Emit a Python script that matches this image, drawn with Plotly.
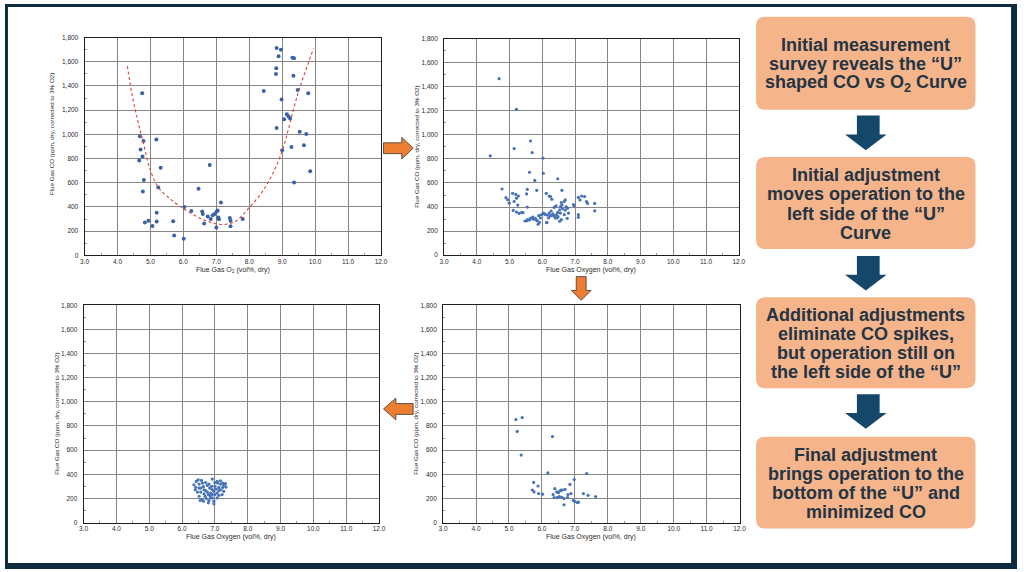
import plotly.graph_objects as go

W, H = 1024, 572

##### Data

# Initial survey (top left) - scattered "U"
survey_o2 = [4.75, 4.68, 4.79, 5.18, 4.70, 4.76, 4.66, 5.31, 6.80, 4.80, 4.77, 5.24, 6.46,
             7.14, 6.03, 6.24, 6.57, 6.59, 6.74, 6.89, 6.95, 7.01, 7.06, 7.04, 7.08, 6.83,
             6.63, 7.00, 7.41, 7.43, 7.43, 7.80, 5.19, 5.19, 4.83, 4.94, 5.06, 5.69, 5.72,
             6.01, 8.83, 8.96, 8.89, 9.31, 9.36, 8.82, 8.81, 9.34, 8.44, 9.47, 9.79, 8.98,
             9.14, 9.19, 9.06, 9.24, 8.83, 9.53, 9.73, 9.00, 9.28, 9.66, 9.85, 9.36]
survey_co = [1340, 984, 945, 957, 875, 818, 785, 725, 747, 624, 527, 562, 551,
             437, 399, 366, 363, 341, 322, 331, 341, 363, 314, 371, 298, 300,
             263, 230, 309, 287, 241, 301, 352, 279, 271, 287, 243, 282, 165,
             138, 1713, 1700, 1645, 1634, 1629, 1547, 1500, 1484, 1359, 1367, 1340, 1288,
             1166, 1147, 1125, 1131, 1052, 1022, 1003, 869, 896, 910, 695, 603]

# dashed trend curve on the survey chart
fit_o2 = [4.30, 4.43, 4.60, 4.78, 4.98, 5.24, 5.58, 5.98, 6.59, 7.18, 7.60, 7.98, 8.38,
          8.70, 9.00, 9.47, 9.95]
fit_co = [1565, 1345, 1130, 935, 717, 562, 471, 390, 297, 255, 285, 390, 520,
          670, 865, 1330, 1710]

# First adjustment (top middle)
adj1_o2 = [4.68, 5.21, 6.02, 5.64, 5.14, 5.69, 4.41, 5.61, 6.03, 5.77, 6.47, 4.77, 5.54,
           5.83, 6.60, 4.89, 4.94, 4.99, 5.09, 5.19, 5.14, 5.21, 5.27, 5.11, 5.21, 5.37,
           5.29, 5.52, 5.54, 5.47, 5.55, 5.64, 5.71, 5.79, 5.84, 5.91, 5.87, 5.89, 5.97,
           6.04, 6.09, 6.15, 6.21, 6.27, 6.32, 6.37, 6.43, 6.47, 6.53, 6.56, 6.58, 6.60,
           6.21, 6.29, 6.12, 6.70, 6.77, 6.80, 6.19, 6.14, 6.45, 6.58, 6.53, 6.95, 7.10,
           7.15, 7.20, 7.29, 7.35, 7.38, 7.60, 7.60, 7.10, 7.10, 6.62, 6.67, 6.70, 6.73,
           6.36, 6.42, 6.25, 6.13, 6.02, 5.94, 5.73, 5.83, 5.61, 5.69, 6.48, 6.40, 6.55,
           6.76, 6.35, 6.23, 5.25, 5.41, 5.53, 6.67, 6.97, 6.27]
adj1_co = [1467, 1212, 807, 949, 886, 853, 826, 689, 681, 621, 635, 550, 547,
           539, 539, 479, 460, 432, 514, 505, 446, 474, 492, 372, 358, 355,
           347, 509, 400, 284, 295, 306, 317, 306, 287, 273, 257, 328, 336,
           350, 339, 333, 350, 328, 344, 322, 336, 355, 377, 405, 438, 418,
           492, 465, 514, 459, 391, 350, 309, 271, 309, 295, 282, 421, 480,
           459, 492, 487, 446, 430, 430, 369, 337, 315, 386, 337, 375, 402,
           397, 410, 487, 271, 345, 309, 298, 290, 293, 309, 320, 309, 350,
           306, 328, 326, 416, 353, 287, 446, 410, 367]

# Additional adjustments (bottom middle)
adj2_o2 = [5.21, 5.40, 5.25, 5.37, 6.32, 6.18, 7.36, 6.98, 6.85, 5.75, 5.88, 5.71, 5.76,
           5.90, 6.02, 6.39, 6.34, 6.45, 6.55, 6.62, 6.60, 6.46, 6.37, 6.53, 6.67, 6.78,
           6.67, 6.79, 6.95, 7.00, 7.07, 7.11, 7.26, 7.40, 7.63, 6.50, 6.58, 6.70, 6.88]
adj2_co = [854, 870, 755, 559, 712, 412, 406, 357, 316, 333, 303, 270, 254,
           240, 235, 281, 232, 254, 262, 270, 210, 207, 207, 215, 199, 207,
           147, 232, 183, 175, 166, 169, 240, 226, 215, 248, 268, 275, 240]

# Final adjustment (bottom left)
final_o2 = [6.49, 6.59, 6.72, 6.92, 7.00, 7.08, 7.17, 7.27, 7.34, 7.24, 6.36, 6.42, 6.52,
            6.57, 6.65, 6.77, 6.84, 6.92, 7.00, 7.04, 7.12, 7.18, 7.27, 7.22, 6.40, 6.47,
            6.52, 6.60, 6.55, 6.67, 6.72, 6.80, 6.87, 6.74, 6.82, 6.92, 7.00, 7.07, 6.97,
            6.97, 7.07, 7.12, 6.67, 6.57, 6.77, 6.87, 6.97, 7.12, 6.62, 6.82, 7.07, 7.17,
            6.90, 6.70, 6.52, 6.43, 7.24, 7.32, 6.85, 6.65, 6.80, 6.92]
final_co = [354, 349, 332, 360, 332, 327, 319, 308, 294, 291, 313, 292, 319,
            286, 297, 308, 286, 273, 300, 278, 291, 272, 259, 232, 272, 253,
            218, 191, 183, 237, 264, 232, 204, 199, 183, 204, 232, 245, 177,
            155, 204, 226, 272, 253, 253, 245, 259, 264, 327, 319, 341, 346,
            300, 218, 286, 341, 327, 322, 224, 177, 164, 232]

x_ticks = [3.0, 4.0, 5.0, 6.0, 7.0, 8.0, 9.0, 10.0, 11.0, 12.0]
y_ticks = [0, 200, 400, 600, 800, 1000, 1200, 1400, 1600, 1800]

y_title = "Flue Gas CO (ppm, dry, corrected to 3% O2)"
x_titles = ["Flue Gas O<sub>2</sub> (vol%, dry)", "Flue Gas Oxygen (vol%, dry)",
            "Flue Gas Oxygen (vol%, dry)", "Flue Gas Oxygen (vol%, dry)"]

box_texts = [
    "Initial measurement<br>survey reveals the \u201cU\u201d<br>shaped CO vs O<sub>2</sub> Curve",
    "Initial adjustment<br>moves operation to the<br>left side of the \u201cU\u201d<br>Curve",
    "Additional adjustments<br>eliminate CO spikes,<br>but operation still on<br>the left side of the \u201cU\u201d",
    "Final adjustment<br>brings operation to the<br>bottom of the \u201cU\u201d and<br>minimized CO",
]


##### helpers (pixel -> paper)
def px(x):
    return x / W


def py(y):
    return 1 - y / H


FONT = "Liberation Sans, Arial, sans-serif"
NAVY = "#0e2b40"
ARROW_BLUE = "#15476a"
ORANGE = "#ed7d31"

# panel boxes in pixels: left, right, top, bottom, y-title x offset
panels = [
    (80.5, 380.5, 34.0, 254.5, 33.5),
    (444.3, 742.5, 35.0, 254.3, 27.5),
    (79.5, 378.5, 305.0, 525.0, 27.0),
    (443.3, 743.3, 305.0, 525.0, 27.5),
]

fig = go.Figure()

marker_blue = "#4673b8"
fig.add_trace(go.Scatter(x=survey_o2, y=survey_co, mode="markers", xaxis="x", yaxis="y",
                         marker=dict(size=4, color="#3a62a8")))
fig.add_trace(go.Scatter(x=fit_o2, y=fit_co, mode="lines", xaxis="x", yaxis="y",
                         line=dict(color="#e2413a", width=1.1, dash="3px,2.5px", shape="spline")))
fig.add_trace(go.Scatter(x=adj1_o2, y=adj1_co, mode="markers", xaxis="x2", yaxis="y2",
                         marker=dict(size=3.2, color=marker_blue)))
fig.add_trace(go.Scatter(x=final_o2, y=final_co, mode="markers", xaxis="x3", yaxis="y3",
                         marker=dict(size=3.2, color=marker_blue)))
fig.add_trace(go.Scatter(x=adj2_o2, y=adj2_co, mode="markers", xaxis="x4", yaxis="y4",
                         marker=dict(size=3.2, color=marker_blue)))

x_minor = [(a + b) / 2 for a, b in zip(x_ticks, x_ticks[1:])]
y_minor = [(a + b) / 2 for a, b in zip(y_ticks, y_ticks[1:])]

layout = dict(
    width=W, height=H, showlegend=False,
    margin=dict(l=0, r=0, t=0, b=0),
    paper_bgcolor="white", plot_bgcolor="white",
)

annotations = []
for i, (l, r, t, b, yoff) in enumerate(panels):
    suf = "" if i == 0 else str(i + 1)
    common = dict(showgrid=True, gridcolor="#858585", gridwidth=1, zeroline=False,
                  showline=True, linecolor="#1e1e1e", linewidth=1, mirror=True,
                  ticks="", tickfont=dict(family=FONT, size=6.5, color="#2b2b2b"))
    layout["xaxis" + suf] = dict(
        common, domain=[px(l), px(r)], anchor="y" + suf, range=[3, 12],
        tickvals=x_ticks, ticktext=["%.1f" % v for v in x_ticks],
        minor=dict(tickvals=x_minor, ticks="inside", ticklen=2, tickcolor="#999999",
                   showgrid=False))
    layout["yaxis" + suf] = dict(
        common, domain=[py(b), py(t)], anchor="x" + suf, range=[0, 1800],
        tickvals=y_ticks, ticktext=["{:,}".format(v) for v in y_ticks],
        ticklabelstandoff=4,
        minor=dict(tickvals=y_minor, ticks="inside", ticklen=2, tickcolor="#999999",
                   showgrid=False))
    # axis titles
    annotations.append(dict(x=px((l + r) / 2), y=py(b + 15), xref="paper", yref="paper",
                            xanchor="center", yanchor="middle",
                            text=x_titles[i], showarrow=False,
                            font=dict(family=FONT, size=7, color="#2b2b2b")))
    ymid = (t + b) / 2 - (13 if i == 0 else 0)
    annotations.append(dict(x=px(l - yoff), y=py(ymid), xref="paper", yref="paper",
                            xanchor="center", yanchor="middle",
                            text=y_title, showarrow=False, textangle=-90,
                            font=dict(family=FONT, size=6.2, color="#2b2b2b")))

shapes = []
# page border
for x0, y0, x1, y1 in [(0, 0, 1024, 3), (0, 0, 3, 572), (1018, 0, 1024, 572), (0, 566, 1024, 572)]:
    shapes.append(dict(type="rect", xref="paper", yref="paper", x0=px(x0), x1=px(x1),
                       y0=py(y1), y1=py(y0), fillcolor=NAVY, line=dict(width=0), layer="above"))


def rounded_box(x0, y0, x1, y1, rad=9):
    pts = [
        "M %f,%f" % (px(x0 + rad), py(y0)),
        "L %f,%f" % (px(x1 - rad), py(y0)),
        "Q %f,%f %f,%f" % (px(x1), py(y0), px(x1), py(y0 + rad)),
        "L %f,%f" % (px(x1), py(y1 - rad)),
        "Q %f,%f %f,%f" % (px(x1), py(y1), px(x1 - rad), py(y1)),
        "L %f,%f" % (px(x0 + rad), py(y1)),
        "Q %f,%f %f,%f" % (px(x0), py(y1), px(x0), py(y1 - rad)),
        "L %f,%f" % (px(x0), py(y0 + rad)),
        "Q %f,%f %f,%f" % (px(x0), py(y0), px(x0 + rad), py(y0)),
        "Z",
    ]
    return " ".join(pts)


def poly(points):
    s = "M " + " L ".join("%f,%f" % (px(x), py(y)) for x, y in points) + " Z"
    return s


# text boxes on the right, one annotation per line for tighter leading
boxes = [(760, 13, 982, 107), (760, 155, 982, 248), (760, 297, 982, 389), (760, 438, 982, 531)]
line_gap = 19.3
for (x0, y0, x1, y1), txt in zip(boxes, box_texts):
    shapes.append(dict(type="path", xref="paper", yref="paper", path=rounded_box(x0, y0, x1, y1),
                       fillcolor="#f5b48a", line=dict(width=0)))
    lines = txt.split("<br>")
    cy = (y0 + y1) / 2 + 1
    for k, ln in enumerate(lines):
        yy = cy + (k - (len(lines) - 1) / 2) * line_gap
        annotations.append(dict(x=px((x0 + x1) / 2), y=py(yy), xref="paper", yref="paper",
                                xanchor="center", yanchor="middle",
                                text="<b>" + ln + "</b>", showarrow=False,
                                font=dict(family=FONT, size=18, color="#233544")))

# dark down arrows between the boxes
for top in [113, 255, 395]:
    shapes.append(dict(type="path", xref="paper", yref="paper", fillcolor=ARROW_BLUE,
                       line=dict(width=0),
                       path=poly([(862, top), (885, top), (885, top + 19), (892, top + 19),
                                  (871, top + 35), (850, top + 19), (862, top + 19)])))

# orange arrows between the charts
arrow_line = dict(width=0.8, color="#3b3b3b")
shapes.append(dict(type="path", xref="paper", yref="paper", fillcolor=ORANGE, line=arrow_line,
                   path=poly([(383, 140.5), (401.5, 140.5), (401.5, 135), (413, 146),
                              (401.5, 157), (401.5, 151.5), (383, 151.5)])))
shapes.append(dict(type="path", xref="paper", yref="paper", fillcolor=ORANGE, line=arrow_line,
                   path=poly([(578, 276), (588, 276), (588, 290), (593, 290),
                              (583, 300), (573, 290), (578, 290)])))
shapes.append(dict(type="path", xref="paper", yref="paper", fillcolor=ORANGE, line=arrow_line,
                   path=poly([(413, 404.5), (395.5, 404.5), (395.5, 399), (383, 410),
                              (395.5, 421), (395.5, 415.5), (413, 415.5)])))

layout["shapes"] = shapes
layout["annotations"] = annotations
fig.update_layout(**layout)

# page has a default body margin; drop it so the figure fills the window
fig.write_html("out.html", config={"displayModeBar": False},
               post_script="document.body.style.margin='0';document.body.style.overflow='hidden';")
